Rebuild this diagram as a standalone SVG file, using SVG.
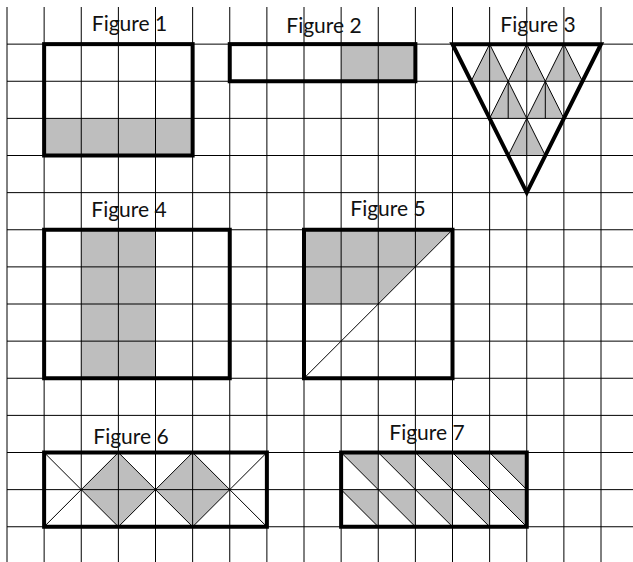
<svg xmlns="http://www.w3.org/2000/svg" width="633" height="562" viewBox="0 0 633 562">
<style>
.grid{stroke:#000;stroke-width:1;fill:none}
.shade{fill:#000;fill-opacity:0.255;stroke:none}
.thin{stroke:#000;stroke-width:1;fill:none}
.thick{stroke:#000;stroke-width:4;fill:none;stroke-linejoin:miter}
.lbl{font-family:Lato,"Liberation Sans",sans-serif;font-size:21px;fill:#111;text-anchor:middle}
</style>
<rect width="633" height="562" fill="#fff"/>
<g id="grid" class="grid">
<path d="M7,7V562M44.125,7V562M81.25,7V562M118.375,7V562M155.5,7V562M192.625,7V562M229.75,7V562M266.875,7V562M304,7V562M341.125,7V562M378.25,7V562M415.375,7V562M452.5,7V562M489.625,7V562M526.75,7V562M563.875,7V562M601,7V562"/>
<path d="M7,44.125H633M7,81.25H633M7,118.375H633M7,155.5H633M7,192.625H633M7,229.75H633M7,266.875H633M7,304H633M7,341.125H633M7,378.25H633M7,415.375H633M7,452.5H633M7,489.625H633M7,526.75H633"/>
</g>
<g id="figure1">
<rect class="shade" x="44.125" y="118.375" width="148.5" height="37.125"/>
<rect class="thick" x="44.125" y="44.125" width="148.5" height="111.375"/>
<text class="lbl" x="129.5" y="31">Figure 1</text>
</g>
<g id="figure2">
<rect class="shade" x="341.125" y="44.125" width="74.25" height="37.125"/>
<rect class="thick" x="229.75" y="44.125" width="185.625" height="37.125"/>
<text class="lbl" x="324" y="33">Figure 2</text>
</g>
<g id="figure3">
<path class="shade" d="M489.625,44.125L471.06,81.25H508.19ZM526.75,44.125L508.19,81.25H545.31ZM563.875,44.125L545.31,81.25H582.44ZM508.19,81.25L489.625,118.375H526.75ZM545.31,81.25L526.75,118.375H563.875ZM526.75,118.375L508.19,155.5H545.31Z"/>
<path class="thin" d="M489.625,44.125L471.06,81.25M526.75,44.125L489.625,118.375M563.875,44.125L508.19,155.5M489.625,44.125L545.31,155.5M526.75,44.125L563.875,118.375M563.875,44.125L582.44,81.25M508.19,81.25V118.375M545.31,81.25V118.375"/>
<path class="thick" d="M452.5,44.125H601L526.75,192.625Z"/>
<text class="lbl" x="538" y="32">Figure 3</text>
</g>
<g id="figure4">
<rect class="shade" x="81.25" y="229.75" width="74.25" height="148.5"/>
<rect class="thick" x="44.125" y="229.75" width="185.625" height="148.5"/>
<text class="lbl" x="129" y="217">Figure 4</text>
</g>
<g id="figure5">
<path class="shade" d="M304,229.75H452.5L378.25,304H304Z"/>
<path class="thin" d="M304,378.25L452.5,229.75"/>
<rect class="thick" x="304" y="229.75" width="148.5" height="148.5"/>
<text class="lbl" x="388" y="216">Figure 5</text>
</g>
<g id="figure6">
<path class="shade" d="M81.25,489.625L118.375,452.5L155.5,489.625L118.375,526.75ZM155.5,489.625L192.625,452.5L229.75,489.625L192.625,526.75Z"/>
<path class="thin" d="M44.125,452.5L118.375,526.75L192.625,452.5L266.875,526.75M44.125,526.75L118.375,452.5L192.625,526.75L266.875,452.5"/>
<rect class="thick" x="44.125" y="452.5" width="222.75" height="74.25"/>
<text class="lbl" x="131" y="444">Figure 6</text>
</g>
<g id="figure7">
<path class="shade" d="M341.125,452.5H378.25V489.625ZM378.25,452.5H415.375V489.625ZM415.375,452.5H452.5V489.625ZM452.5,452.5H489.625V489.625ZM489.625,452.5H526.75V489.625ZM341.125,489.625H378.25V526.75ZM378.25,489.625H415.375V526.75ZM415.375,489.625H452.5V526.75ZM452.5,489.625H489.625V526.75ZM489.625,489.625H526.75V526.75Z"/>
<path class="thin" d="M341.125,452.5L378.25,489.625M378.25,452.5L415.375,489.625M415.375,452.5L452.5,489.625M452.5,452.5L489.625,489.625M489.625,452.5L526.75,489.625M341.125,489.625L378.25,526.75M378.25,489.625L415.375,526.75M415.375,489.625L452.5,526.75M452.5,489.625L489.625,526.75M489.625,489.625L526.75,526.75"/>
<rect class="thick" x="341.125" y="452.5" width="185.625" height="74.25"/>
<text class="lbl" x="427" y="440">Figure 7</text>
</g>
</svg>
